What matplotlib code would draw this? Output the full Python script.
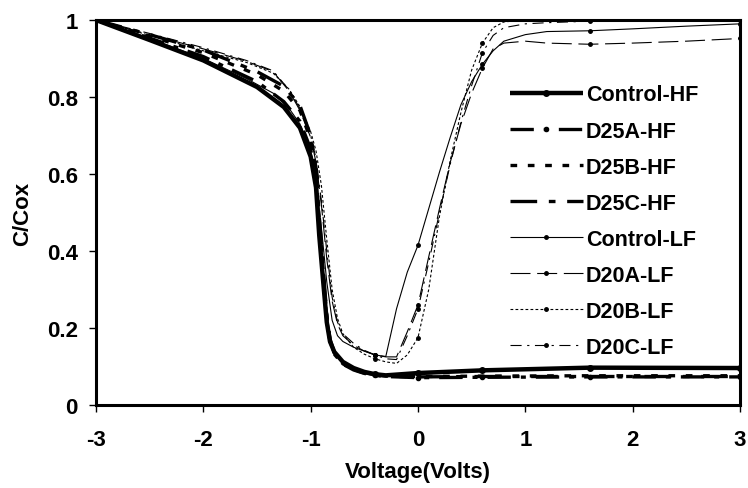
import numpy as np
import matplotlib
matplotlib.use("Agg")
import matplotlib.pyplot as plt

plt.rcParams['font.family'] = ['Liberation Sans', 'DejaVu Sans']
plt.rcParams['font.weight'] = 'bold'
plt.rcParams['axes.unicode_minus'] = False

# High frequency C-V sweeps
v_hf = [-3.0, -2.5, -2.0, -1.5, -1.25, -1.1, -1.0, -0.95, -0.92, -0.88, -0.85,
        -0.82, -0.78, -0.7, -0.6, -0.5, -0.4, -0.3, 0.0, 0.6, 1.6, 3.0]
c_control_hf = [1.0, 0.948, 0.895, 0.826, 0.774, 0.72, 0.645, 0.565, 0.44, 0.31, 0.215,
                0.165, 0.138, 0.112, 0.096, 0.086, 0.08, 0.077, 0.083, 0.09, 0.097, 0.096]
c_d25a_hf = [1.0, 0.953, 0.905, 0.84, 0.788, 0.737, 0.665, 0.585, 0.46, 0.32, 0.22,
             0.165, 0.132, 0.106, 0.091, 0.082, 0.077, 0.074, 0.071, 0.072, 0.073, 0.073]
c_d25b_hf = [1.0, 0.958, 0.915, 0.858, 0.815, 0.765, 0.69, 0.605, 0.48, 0.335, 0.23,
             0.168, 0.135, 0.107, 0.092, 0.083, 0.078, 0.075, 0.074, 0.075, 0.076, 0.076]
c_d25c_hf = [1.0, 0.962, 0.922, 0.866, 0.828, 0.778, 0.7, 0.615, 0.49, 0.345, 0.235,
             0.172, 0.137, 0.108, 0.093, 0.084, 0.078, 0.075, 0.073, 0.074, 0.074, 0.074]

# Low frequency (quasi-static) sweeps
v_lf = [-3.0, -2.5, -2.0, -1.6, -1.35, -1.2, -1.1, -1.0, -0.95, -0.9, -0.85, -0.8,
        -0.75, -0.7, -0.6, -0.5, -0.4, -0.3, -0.2, -0.1, 0.0, 0.1, 0.2, 0.3, 0.4,
        0.5, 0.6, 0.7, 0.8, 1.0, 1.2, 1.6, 2.0, 2.5, 3.0]
c_control_lf = [1.0, 0.952, 0.9, 0.848, 0.81, 0.77, 0.73, 0.66, 0.58, 0.46, 0.32, 0.22,
                0.18, 0.165, 0.15, 0.14, 0.13, 0.126, 0.25, 0.345, 0.415, 0.51, 0.605, 0.695, 0.78,
                0.84, 0.885, 0.92, 0.945, 0.962, 0.97, 0.972, 0.977, 0.984, 0.99]
c_d20a_lf = [1.0, 0.962, 0.925, 0.893, 0.866, 0.815, 0.765, 0.695, 0.63, 0.52, 0.38, 0.27,
             0.21, 0.18, 0.155, 0.14, 0.13, 0.125, 0.125, 0.19, 0.26, 0.385, 0.51, 0.63, 0.73,
             0.81, 0.875, 0.925, 0.94, 0.945, 0.94, 0.937, 0.94, 0.945, 0.952]
c_d20b_lf = [1.0, 0.96, 0.92, 0.89, 0.862, 0.82, 0.775, 0.71, 0.66, 0.57, 0.43, 0.3,
             0.225, 0.185, 0.15, 0.132, 0.12, 0.112, 0.108, 0.13, 0.175, 0.3, 0.49, 0.635, 0.76,
             0.87, 0.94, 0.98, 0.995, 1.0, 1.0, 1.0, 1.0, 1.0, 1.0]
c_d20c_lf = [1.0, 0.965, 0.928, 0.895, 0.868, 0.818, 0.77, 0.7, 0.64, 0.53, 0.4, 0.28,
             0.215, 0.185, 0.16, 0.142, 0.13, 0.12, 0.118, 0.18, 0.25, 0.37, 0.5, 0.625, 0.735,
             0.83, 0.915, 0.96, 0.98, 0.99, 0.993, 0.997, 0.998, 1.0, 1.0]

mark_v = [-0.4, 0.0, 0.6, 1.6, 3.0]

series = [
    ('Control-HF', v_hf, c_control_hf, dict(lw=3.2, ls='-', ms=4)),
    ('D25A-HF', v_hf, c_d25a_hf, dict(lw=2.4, ls=(0, (7, 3, 1.5, 3)), ms=3)),
    ('D25B-HF', v_hf, c_d25b_hf, dict(lw=2.4, ls=(0, (2, 3.2)), ms=0)),
    ('D25C-HF', v_hf, c_d25c_hf, dict(lw=2.4, ls=(0, (8, 3.5, 2, 3.5)), ms=0)),
    ('Control-LF', v_lf, c_control_lf, dict(lw=0.8, ls='-', ms=2.5)),
    ('D20A-LF', v_lf, c_d20a_lf, dict(lw=0.8, ls=(0, (18, 6)), ms=2.5)),
    ('D20B-LF', v_lf, c_d20b_lf, dict(lw=0.8, ls=(0, (2.5, 2)), ms=2.5)),
    ('D20C-LF', v_lf, c_d20c_lf, dict(lw=0.8, ls=(0, (10, 5, 2, 5)), ms=2.5)),
]

fig = plt.figure(figsize=(7.48, 4.89), dpi=100)
ax = fig.add_axes([96 / 748, 1 - 406 / 489, 644 / 748, 385 / 489])

for name, v, c, st in series:
    v = np.array(v)
    marks = np.isin(np.round(v, 2), mark_v)
    ax.plot(v, c, color='black', lw=st['lw'], ls=st['ls'], marker='o',
            ms=st['ms'], markevery=list(marks), label=name,
            solid_capstyle='butt', dash_capstyle='butt')

ax.set_xlim(-3, 3)
ax.set_ylim(0, 1)
ax.set_xticks([-3, -2, -1, 0, 1, 2, 3])
ax.set_yticks([0, 0.2, 0.4, 0.6, 0.8, 1.0])
ax.set_yticklabels(['0', '0.2', '0.4', '0.6', '0.8', '1'])
for s in ax.spines.values():
    s.set_linewidth(2.2)
ax.tick_params(direction='out', length=5, width=1, labelsize=16)
ax.tick_params(axis='x', pad=12)
ax.tick_params(axis='y', pad=8)
for lab in ax.get_xticklabels() + ax.get_yticklabels():
    lab.set_fontweight('bold')

ax.set_xlabel('Voltage(Volts)', fontsize=16, fontweight='bold', labelpad=8)
ax.set_ylabel('C/Cox', fontsize=16, fontweight='bold', labelpad=10)

leg = ax.legend(loc='upper left', bbox_to_anchor=(0.629, 0.855), frameon=False,
                fontsize=15.5, handlelength=3.4, handletextpad=0.15,
                labelspacing=0.7, borderaxespad=0)
for t in leg.get_texts():
    t.set_fontweight('bold')

fig.savefig('out.png', dpi=100)
